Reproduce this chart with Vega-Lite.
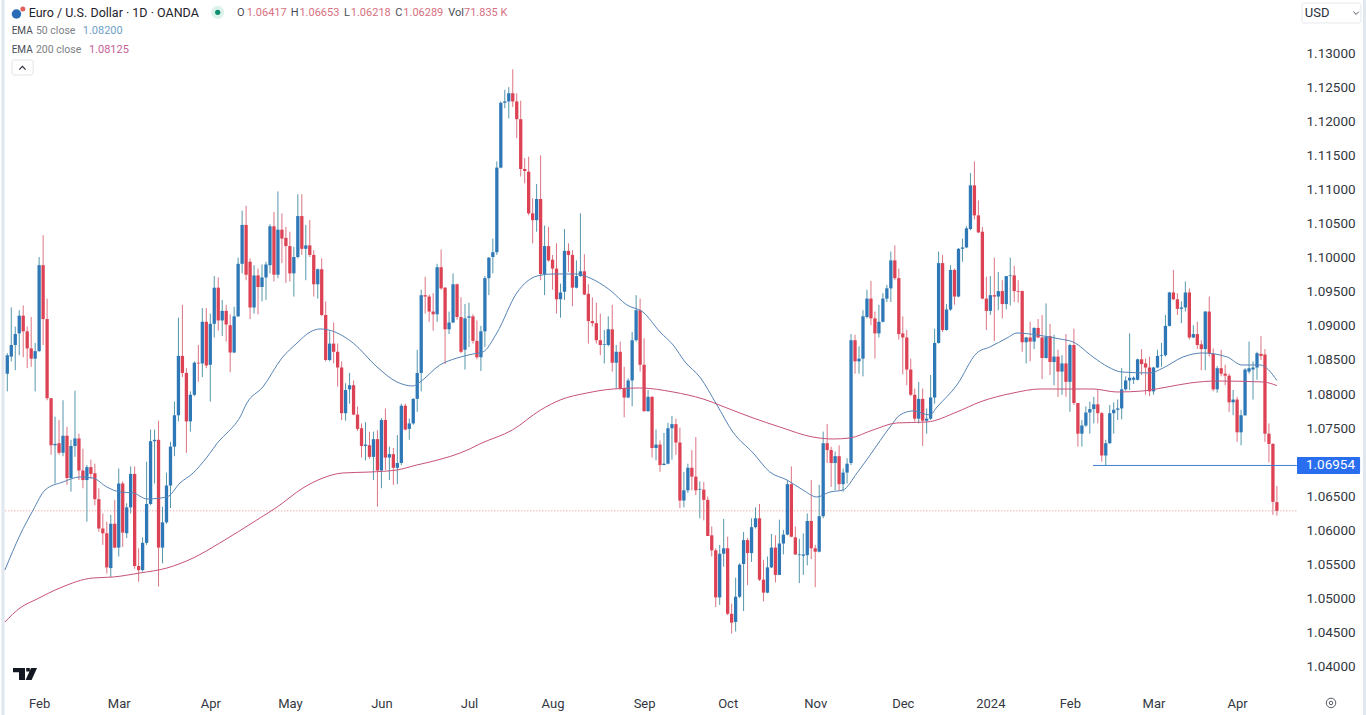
{"$schema":"https://vega.github.io/schema/vega-lite/v6.json","autosize":"none","padding":{"left":0,"top":0,"right":70,"bottom":30},"width":1296,"height":685,"background":"#ffffff","view":{"stroke":null},
"datasets":{
"candles":[
{"n":0,"o":1.0830,"h":1.0860,"l":1.0804,"c":1.0857,"d":"u"},{"n":1,"o":1.0855,"h":1.0927,"l":1.0848,"c":1.0872,"d":"u"},{"n":2,"o":1.0872,"h":1.0899,"l":1.0835,"c":1.0888,"d":"u"},{"n":3,"o":1.0889,"h":1.0923,"l":1.0857,"c":1.0915,"d":"u"},{"n":4,"o":1.0915,"h":1.0930,"l":1.0854,"c":1.0892,"d":"d"},{"n":5,"o":1.0892,"h":1.0899,"l":1.0838,"c":1.0867,"d":"d"},{"n":6,"o":1.0867,"h":1.0913,"l":1.0840,"c":1.0852,"d":"d"},{"n":7,"o":1.0852,"h":1.0875,"l":1.0804,"c":1.0863,"d":"u"},{"n":8,"o":1.0863,"h":1.1001,"l":1.0862,"c":1.0989,"d":"u"},{"n":9,"o":1.0989,"h":1.1033,"l":1.0872,"c":1.0910,"d":"d"},
{"n":10,"o":1.0910,"h":1.0940,"l":1.0791,"c":1.0794,"d":"d"},{"n":11,"o":1.0794,"h":1.0794,"l":1.0711,"c":1.0725,"d":"d"},{"n":12,"o":1.0725,"h":1.0767,"l":1.0669,"c":1.0727,"d":"u"},{"n":13,"o":1.0728,"h":1.0762,"l":1.0711,"c":1.0714,"d":"d"},{"n":14,"o":1.0714,"h":1.0791,"l":1.0709,"c":1.0739,"d":"u"},{"n":15,"o":1.0739,"h":1.0752,"l":1.0667,"c":1.0677,"d":"d"},{"n":16,"o":1.0677,"h":1.0733,"l":1.0657,"c":1.0724,"d":"u"},{"n":17,"o":1.0724,"h":1.0805,"l":1.0708,"c":1.0735,"d":"u"},{"n":18,"o":1.0735,"h":1.0742,"l":1.0674,"c":1.0688,"d":"d"},{"n":19,"o":1.0688,"h":1.0720,"l":1.0662,"c":1.0674,"d":"d"},
{"n":20,"o":1.0674,"h":1.0696,"l":1.0613,"c":1.0693,"d":"u"},{"n":21,"o":1.0693,"h":1.0704,"l":1.0676,"c":1.0683,"d":"d"},{"n":22,"o":1.0684,"h":1.0698,"l":1.0637,"c":1.0646,"d":"d"},{"n":23,"o":1.0646,"h":1.0662,"l":1.0598,"c":1.0603,"d":"d"},{"n":24,"o":1.0603,"h":1.0625,"l":1.0579,"c":1.0596,"d":"d"},{"n":25,"o":1.0596,"h":1.0613,"l":1.0537,"c":1.0546,"d":"d"},{"n":26,"o":1.0545,"h":1.0623,"l":1.0532,"c":1.0610,"d":"u"},{"n":27,"o":1.0610,"h":1.0645,"l":1.0574,"c":1.0575,"d":"d"},{"n":28,"o":1.0575,"h":1.0691,"l":1.0562,"c":1.0669,"d":"u"},{"n":29,"o":1.0669,"h":1.0672,"l":1.0576,"c":1.0597,"d":"d"},
{"n":30,"o":1.0596,"h":1.0640,"l":1.0589,"c":1.0634,"d":"u"},{"n":31,"o":1.0634,"h":1.0694,"l":1.0625,"c":1.0683,"d":"u"},{"n":32,"o":1.0683,"h":1.0694,"l":1.0544,"c":1.0548,"d":"d"},{"n":33,"o":1.0548,"h":1.0574,"l":1.0525,"c":1.0542,"d":"d"},{"n":34,"o":1.0542,"h":1.0590,"l":1.0540,"c":1.0582,"d":"u"},{"n":35,"o":1.0582,"h":1.0701,"l":1.0579,"c":1.0639,"d":"u"},{"n":36,"o":1.0639,"h":1.0748,"l":1.0637,"c":1.0731,"d":"u"},{"n":37,"o":1.0731,"h":1.0748,"l":1.0669,"c":1.0733,"d":"u"},{"n":38,"o":1.0733,"h":1.0761,"l":1.0518,"c":1.0575,"d":"d"},{"n":39,"o":1.0575,"h":1.0635,"l":1.0552,"c":1.0612,"d":"u"},
{"n":40,"o":1.0612,"h":1.0685,"l":1.0610,"c":1.0666,"d":"u"},{"n":41,"o":1.0666,"h":1.0730,"l":1.0633,"c":1.0723,"d":"u"},{"n":42,"o":1.0723,"h":1.0789,"l":1.0709,"c":1.0769,"d":"u"},{"n":43,"o":1.0769,"h":1.0912,"l":1.0760,"c":1.0856,"d":"u"},{"n":44,"o":1.0856,"h":1.0931,"l":1.0825,"c":1.0831,"d":"d"},{"n":45,"o":1.0831,"h":1.0838,"l":1.0714,"c":1.0760,"d":"d"},{"n":46,"o":1.0760,"h":1.0804,"l":1.0745,"c":1.0799,"d":"u"},{"n":47,"o":1.0799,"h":1.0848,"l":1.0797,"c":1.0846,"d":"u"},{"n":48,"o":1.0846,"h":1.0872,"l":1.0818,"c":1.0845,"d":"d"},{"n":49,"o":1.0845,"h":1.0926,"l":1.0825,"c":1.0906,"d":"u"},
{"n":50,"o":1.0906,"h":1.0926,"l":1.0838,"c":1.0842,"d":"d"},{"n":51,"o":1.0843,"h":1.0918,"l":1.0789,"c":1.0903,"d":"u"},{"n":52,"o":1.0903,"h":1.0973,"l":1.0883,"c":1.0956,"d":"u"},{"n":53,"o":1.0956,"h":1.0971,"l":1.0893,"c":1.0908,"d":"d"},{"n":54,"o":1.0908,"h":1.0938,"l":1.0885,"c":1.0922,"d":"u"},{"n":55,"o":1.0922,"h":1.0931,"l":1.0877,"c":1.0902,"d":"d"},{"n":56,"o":1.0901,"h":1.0917,"l":1.0832,"c":1.0861,"d":"d"},{"n":57,"o":1.0861,"h":1.0928,"l":1.0860,"c":1.0914,"d":"u"},{"n":58,"o":1.0914,"h":1.1000,"l":1.0913,"c":1.0991,"d":"u"},{"n":59,"o":1.0991,"h":1.1069,"l":1.0977,"c":1.1048,"d":"u"},
{"n":60,"o":1.1048,"h":1.1076,"l":1.0967,"c":1.0975,"d":"d"},{"n":61,"o":1.0994,"h":1.0999,"l":1.0910,"c":1.0927,"d":"d"},{"n":62,"o":1.0927,"h":1.0989,"l":1.0918,"c":1.0974,"d":"u"},{"n":63,"o":1.0974,"h":1.0984,"l":1.0917,"c":1.0957,"d":"d"},{"n":64,"o":1.0957,"h":1.0990,"l":1.0936,"c":1.0971,"d":"u"},{"n":65,"o":1.0971,"h":1.0994,"l":1.0938,"c":1.0990,"d":"u"},{"n":66,"o":1.0989,"h":1.1049,"l":1.0977,"c":1.1046,"d":"u"},{"n":67,"o":1.1046,"h":1.1067,"l":1.0965,"c":1.0975,"d":"d"},{"n":68,"o":1.0975,"h":1.1097,"l":1.0970,"c":1.1041,"d":"u"},{"n":69,"o":1.1041,"h":1.1065,"l":1.0992,"c":1.1028,"d":"d"},
{"n":70,"o":1.1029,"h":1.1045,"l":1.0963,"c":1.1017,"d":"d"},{"n":71,"o":1.1017,"h":1.1038,"l":1.0965,"c":1.0977,"d":"d"},{"n":72,"o":1.0977,"h":1.1016,"l":1.0943,"c":1.1001,"d":"u"},{"n":73,"o":1.1001,"h":1.1093,"l":1.0999,"c":1.1061,"d":"u"},{"n":74,"o":1.1061,"h":1.1093,"l":1.1004,"c":1.1013,"d":"d"},{"n":75,"o":1.1013,"h":1.1048,"l":1.0967,"c":1.1018,"d":"u"},{"n":76,"o":1.1018,"h":1.1055,"l":1.1001,"c":1.1004,"d":"d"},{"n":77,"o":1.1004,"h":1.1011,"l":1.0943,"c":1.0961,"d":"d"},{"n":78,"o":1.0961,"h":1.0984,"l":1.0940,"c":1.0983,"d":"u"},{"n":79,"o":1.0983,"h":1.0999,"l":1.0914,"c":1.0916,"d":"d"},
{"n":80,"o":1.0916,"h":1.0936,"l":1.0848,"c":1.0850,"d":"d"},{"n":81,"o":1.0850,"h":1.0892,"l":1.0848,"c":1.0874,"d":"u"},{"n":82,"o":1.0874,"h":1.0905,"l":1.0845,"c":1.0862,"d":"d"},{"n":83,"o":1.0862,"h":1.0874,"l":1.0811,"c":1.0839,"d":"d"},{"n":84,"o":1.0839,"h":1.0848,"l":1.0762,"c":1.0772,"d":"d"},{"n":85,"o":1.0772,"h":1.0816,"l":1.0761,"c":1.0806,"d":"u"},{"n":86,"o":1.0807,"h":1.0831,"l":1.0786,"c":1.0813,"d":"u"},{"n":87,"o":1.0813,"h":1.0820,"l":1.0769,"c":1.0770,"d":"d"},{"n":88,"o":1.0770,"h":1.0782,"l":1.0746,"c":1.0749,"d":"d"},{"n":89,"o":1.0750,"h":1.0757,"l":1.0707,"c":1.0724,"d":"d"},
{"n":90,"o":1.0724,"h":1.0759,"l":1.0703,"c":1.0726,"d":"u"},{"n":91,"o":1.0725,"h":1.0745,"l":1.0705,"c":1.0708,"d":"d"},{"n":92,"o":1.0708,"h":1.0745,"l":1.0674,"c":1.0734,"d":"u"},{"n":93,"o":1.0734,"h":1.0747,"l":1.0635,"c":1.0688,"d":"d"},{"n":94,"o":1.0688,"h":1.0765,"l":1.0662,"c":1.0762,"d":"u"},{"n":95,"o":1.0762,"h":1.0779,"l":1.0689,"c":1.0707,"d":"d"},{"n":96,"o":1.0707,"h":1.0723,"l":1.0674,"c":1.0712,"d":"u"},{"n":97,"o":1.0712,"h":1.0721,"l":1.0667,"c":1.0692,"d":"d"},{"n":98,"o":1.0692,"h":1.0740,"l":1.0668,"c":1.0699,"d":"u"},{"n":99,"o":1.0699,"h":1.0786,"l":1.0696,"c":1.0783,"d":"u"},
{"n":100,"o":1.0783,"h":1.0786,"l":1.0747,"c":1.0748,"d":"d"},{"n":101,"o":1.0749,"h":1.0764,"l":1.0733,"c":1.0757,"d":"u"},{"n":102,"o":1.0757,"h":1.0794,"l":1.0755,"c":1.0793,"d":"u"},{"n":103,"o":1.0793,"h":1.0865,"l":1.0774,"c":1.0831,"d":"u"},{"n":104,"o":1.0831,"h":1.0953,"l":1.0804,"c":1.0945,"d":"u"},{"n":105,"o":1.0945,"h":1.0972,"l":1.0918,"c":1.0943,"d":"d"},{"n":106,"o":1.0943,"h":1.0946,"l":1.0906,"c":1.0921,"d":"d"},{"n":107,"o":1.0921,"h":1.0948,"l":1.0893,"c":1.0917,"d":"d"},{"n":108,"o":1.0917,"h":1.0991,"l":1.0906,"c":1.0986,"d":"u"},{"n":109,"o":1.0986,"h":1.1012,"l":1.0953,"c":1.0955,"d":"d"},
{"n":110,"o":1.0956,"h":1.0957,"l":1.0844,"c":1.0895,"d":"d"},{"n":111,"o":1.0895,"h":1.0921,"l":1.0888,"c":1.0905,"d":"u"},{"n":112,"o":1.0905,"h":1.0977,"l":1.0904,"c":1.0961,"d":"u"},{"n":113,"o":1.0961,"h":1.0962,"l":1.0909,"c":1.0913,"d":"d"},{"n":114,"o":1.0913,"h":1.0942,"l":1.0860,"c":1.0862,"d":"d"},{"n":115,"o":1.0865,"h":1.0932,"l":1.0836,"c":1.0911,"d":"u"},{"n":116,"o":1.0912,"h":1.0934,"l":1.0869,"c":1.0914,"d":"u"},{"n":117,"o":1.0914,"h":1.0917,"l":1.0874,"c":1.0878,"d":"d"},{"n":118,"o":1.0878,"h":1.0908,"l":1.0851,"c":1.0854,"d":"d"},{"n":119,"o":1.0854,"h":1.0900,"l":1.0834,"c":1.0892,"d":"u"},
{"n":120,"o":1.0892,"h":1.0973,"l":1.0869,"c":1.0970,"d":"u"},{"n":121,"o":1.0970,"h":1.1001,"l":1.0945,"c":1.1000,"d":"u"},{"n":122,"o":1.1001,"h":1.1028,"l":1.0977,"c":1.1008,"d":"u"},{"n":123,"o":1.1008,"h":1.1141,"l":1.1004,"c":1.1132,"d":"u"},{"n":124,"o":1.1132,"h":1.1229,"l":1.1131,"c":1.1227,"d":"u"},{"n":125,"o":1.1227,"h":1.1246,"l":1.1219,"c":1.1229,"d":"u"},{"n":126,"o":1.1229,"h":1.1250,"l":1.1204,"c":1.1241,"d":"u"},{"n":127,"o":1.1241,"h":1.1276,"l":1.1221,"c":1.1229,"d":"d"},{"n":128,"o":1.1229,"h":1.1241,"l":1.1175,"c":1.1203,"d":"d"},{"n":129,"o":1.1203,"h":1.1230,"l":1.1119,"c":1.1130,"d":"d"},
{"n":130,"o":1.1130,"h":1.1146,"l":1.1109,"c":1.1127,"d":"d"},{"n":131,"o":1.1126,"h":1.1148,"l":1.1062,"c":1.1065,"d":"d"},{"n":132,"o":1.1065,"h":1.1087,"l":1.1021,"c":1.1055,"d":"d"},{"n":133,"o":1.1055,"h":1.1108,"l":1.1038,"c":1.1086,"d":"u"},{"n":134,"o":1.1086,"h":1.1150,"l":1.0967,"c":1.0976,"d":"d"},{"n":135,"o":1.0976,"h":1.1047,"l":1.0945,"c":1.1017,"d":"u"},{"n":136,"o":1.1017,"h":1.1045,"l":1.0994,"c":1.0996,"d":"d"},{"n":137,"o":1.0997,"h":1.1004,"l":1.0953,"c":1.0984,"d":"d"},{"n":138,"o":1.0984,"h":1.1021,"l":1.0918,"c":1.0939,"d":"d"},{"n":139,"o":1.0939,"h":1.0962,"l":1.0912,"c":1.0949,"d":"u"},
{"n":140,"o":1.0950,"h":1.1042,"l":1.0938,"c":1.1010,"d":"u"},{"n":141,"o":1.1010,"h":1.1021,"l":1.0979,"c":1.1004,"d":"d"},{"n":142,"o":1.1004,"h":1.1011,"l":1.0929,"c":1.0956,"d":"d"},{"n":143,"o":1.0956,"h":1.0996,"l":1.0955,"c":1.0973,"d":"u"},{"n":144,"o":1.0973,"h":1.1065,"l":1.0972,"c":1.0980,"d":"u"},{"n":145,"o":1.0980,"h":1.1005,"l":1.0945,"c":1.0946,"d":"d"},{"n":146,"o":1.0947,"h":1.0961,"l":1.0874,"c":1.0907,"d":"d"},{"n":147,"o":1.0907,"h":1.0942,"l":1.0899,"c":1.0904,"d":"d"},{"n":148,"o":1.0904,"h":1.0934,"l":1.0874,"c":1.0879,"d":"d"},{"n":149,"o":1.0879,"h":1.0918,"l":1.0857,"c":1.0872,"d":"d"},
{"n":150,"o":1.0872,"h":1.0894,"l":1.0845,"c":1.0873,"d":"u"},{"n":151,"o":1.0872,"h":1.0914,"l":1.0870,"c":1.0895,"d":"u"},{"n":152,"o":1.0895,"h":1.0931,"l":1.0833,"c":1.0846,"d":"d"},{"n":153,"o":1.0846,"h":1.0872,"l":1.0808,"c":1.0862,"d":"u"},{"n":154,"o":1.0862,"h":1.0877,"l":1.0806,"c":1.0809,"d":"d"},{"n":155,"o":1.0809,"h":1.0840,"l":1.0766,"c":1.0795,"d":"d"},{"n":156,"o":1.0795,"h":1.0823,"l":1.0794,"c":1.0820,"d":"u"},{"n":157,"o":1.0820,"h":1.0891,"l":1.0782,"c":1.0879,"d":"u"},{"n":158,"o":1.0879,"h":1.0945,"l":1.0877,"c":1.0923,"d":"u"},{"n":159,"o":1.0923,"h":1.0940,"l":1.0833,"c":1.0843,"d":"d"},
{"n":160,"o":1.0843,"h":1.0882,"l":1.0774,"c":1.0775,"d":"d"},{"n":161,"o":1.0775,"h":1.0806,"l":1.0774,"c":1.0796,"d":"u"},{"n":162,"o":1.0796,"h":1.0797,"l":1.0707,"c":1.0721,"d":"d"},{"n":163,"o":1.0721,"h":1.0748,"l":1.0703,"c":1.0726,"d":"u"},{"n":164,"o":1.0726,"h":1.0732,"l":1.0686,"c":1.0696,"d":"d"},{"n":165,"o":1.0696,"h":1.0743,"l":1.0696,"c":1.0698,"d":"u"},{"n":166,"o":1.0698,"h":1.0758,"l":1.0697,"c":1.0750,"d":"u"},{"n":167,"o":1.0750,"h":1.0768,"l":1.0704,"c":1.0756,"d":"u"},{"n":168,"o":1.0756,"h":1.0764,"l":1.0711,"c":1.0729,"d":"d"},{"n":169,"o":1.0729,"h":1.0751,"l":1.0633,"c":1.0644,"d":"d"},
{"n":170,"o":1.0644,"h":1.0686,"l":1.0634,"c":1.0659,"d":"u"},{"n":171,"o":1.0659,"h":1.0698,"l":1.0655,"c":1.0692,"d":"u"},{"n":172,"o":1.0692,"h":1.0718,"l":1.0659,"c":1.0679,"d":"d"},{"n":173,"o":1.0679,"h":1.0737,"l":1.0652,"c":1.0659,"d":"d"},{"n":174,"o":1.0660,"h":1.0672,"l":1.0618,"c":1.0661,"d":"u"},{"n":175,"o":1.0660,"h":1.0671,"l":1.0615,"c":1.0645,"d":"d"},{"n":176,"o":1.0645,"h":1.0650,"l":1.0592,"c":1.0592,"d":"d"},{"n":177,"o":1.0593,"h":1.0606,"l":1.0562,"c":1.0571,"d":"d"},{"n":178,"o":1.0571,"h":1.0574,"l":1.0488,"c":1.0502,"d":"d"},{"n":179,"o":1.0502,"h":1.0579,"l":1.0491,"c":1.0566,"d":"u"},
{"n":180,"o":1.0566,"h":1.0617,"l":1.0547,"c":1.0574,"d":"u"},{"n":181,"o":1.0574,"h":1.0591,"l":1.0476,"c":1.0478,"d":"d"},{"n":182,"o":1.0478,"h":1.0493,"l":1.0449,"c":1.0465,"d":"d"},{"n":183,"o":1.0466,"h":1.0531,"l":1.0452,"c":1.0503,"d":"u"},{"n":184,"o":1.0503,"h":1.0552,"l":1.0501,"c":1.0550,"d":"u"},{"n":185,"o":1.0551,"h":1.0598,"l":1.0482,"c":1.0586,"d":"u"},{"n":186,"o":1.0586,"h":1.0589,"l":1.0520,"c":1.0567,"d":"d"},{"n":187,"o":1.0567,"h":1.0618,"l":1.0554,"c":1.0605,"d":"u"},{"n":188,"o":1.0605,"h":1.0634,"l":1.0603,"c":1.0618,"d":"u"},{"n":189,"o":1.0618,"h":1.0639,"l":1.0526,"c":1.0528,"d":"d"},
{"n":190,"o":1.0528,"h":1.0557,"l":1.0496,"c":1.0509,"d":"d"},{"n":191,"o":1.0509,"h":1.0562,"l":1.0508,"c":1.0546,"d":"u"},{"n":192,"o":1.0546,"h":1.0595,"l":1.0545,"c":1.0575,"d":"u"},{"n":193,"o":1.0575,"h":1.0593,"l":1.0524,"c":1.0535,"d":"d"},{"n":194,"o":1.0535,"h":1.0616,"l":1.0535,"c":1.0581,"d":"u"},{"n":195,"o":1.0581,"h":1.0601,"l":1.0565,"c":1.0594,"d":"u"},{"n":196,"o":1.0594,"h":1.0674,"l":1.0593,"c":1.0668,"d":"u"},{"n":197,"o":1.0668,"h":1.0694,"l":1.0590,"c":1.0591,"d":"d"},{"n":198,"o":1.0590,"h":1.0606,"l":1.0564,"c":1.0565,"d":"d"},{"n":199,"o":1.0564,"h":1.0588,"l":1.0523,"c":1.0565,"d":"u"},
{"n":200,"o":1.0563,"h":1.0596,"l":1.0535,"c":1.0565,"d":"u"},{"n":201,"o":1.0564,"h":1.0625,"l":1.0549,"c":1.0614,"d":"u"},{"n":202,"o":1.0614,"h":1.0674,"l":1.0558,"c":1.0574,"d":"d"},{"n":203,"o":1.0574,"h":1.0579,"l":1.0517,"c":1.0569,"d":"d"},{"n":204,"o":1.0569,"h":1.0667,"l":1.0568,"c":1.0621,"d":"u"},{"n":205,"o":1.0621,"h":1.0745,"l":1.0618,"c":1.0728,"d":"u"},{"n":206,"o":1.0728,"h":1.0756,"l":1.0699,"c":1.0718,"d":"d"},{"n":207,"o":1.0718,"h":1.0723,"l":1.0664,"c":1.0699,"d":"d"},{"n":208,"o":1.0699,"h":1.0716,"l":1.0659,"c":1.0709,"d":"u"},{"n":209,"o":1.0709,"h":1.0725,"l":1.0659,"c":1.0668,"d":"d"},
{"n":210,"o":1.0668,"h":1.0691,"l":1.0657,"c":1.0685,"d":"u"},{"n":211,"o":1.0685,"h":1.0706,"l":1.0669,"c":1.0698,"d":"u"},{"n":212,"o":1.0699,"h":1.0888,"l":1.0696,"c":1.0879,"d":"u"},{"n":213,"o":1.0879,"h":1.0887,"l":1.0830,"c":1.0848,"d":"d"},{"n":214,"o":1.0848,"h":1.0870,"l":1.0830,"c":1.0852,"d":"u"},{"n":215,"o":1.0852,"h":1.0923,"l":1.0826,"c":1.0914,"d":"u"},{"n":216,"o":1.0913,"h":1.0953,"l":1.0911,"c":1.0940,"d":"u"},{"n":217,"o":1.0940,"h":1.0966,"l":1.0901,"c":1.0911,"d":"d"},{"n":218,"o":1.0911,"h":1.0921,"l":1.0852,"c":1.0889,"d":"d"},{"n":219,"o":1.0889,"h":1.0931,"l":1.0883,"c":1.0906,"d":"u"},
{"n":220,"o":1.0906,"h":1.0948,"l":1.0905,"c":1.0940,"d":"u"},{"n":221,"o":1.0940,"h":1.0960,"l":1.0935,"c":1.0955,"d":"u"},{"n":222,"o":1.0955,"h":1.1009,"l":1.0935,"c":1.0996,"d":"u"},{"n":223,"o":1.0996,"h":1.1018,"l":1.0967,"c":1.0970,"d":"d"},{"n":224,"o":1.0970,"h":1.0984,"l":1.0880,"c":1.0888,"d":"d"},{"n":225,"o":1.0889,"h":1.0914,"l":1.0829,"c":1.0883,"d":"d"},{"n":226,"o":1.0883,"h":1.0894,"l":1.0813,"c":1.0836,"d":"d"},{"n":227,"o":1.0836,"h":1.0852,"l":1.0797,"c":1.0799,"d":"d"},{"n":228,"o":1.0799,"h":1.0808,"l":1.0760,"c":1.0764,"d":"d"},{"n":229,"o":1.0764,"h":1.0818,"l":1.0757,"c":1.0793,"d":"u"},
{"n":230,"o":1.0793,"h":1.0808,"l":1.0724,"c":1.0761,"d":"d"},{"n":231,"o":1.0761,"h":1.0779,"l":1.0742,"c":1.0764,"d":"u"},{"n":232,"o":1.0764,"h":1.0828,"l":1.0762,"c":1.0795,"d":"u"},{"n":233,"o":1.0795,"h":1.0896,"l":1.0786,"c":1.0875,"d":"u"},{"n":234,"o":1.0875,"h":1.1009,"l":1.0874,"c":1.0992,"d":"u"},{"n":235,"o":1.0992,"h":1.1004,"l":1.0891,"c":1.0894,"d":"d"},{"n":236,"o":1.0894,"h":1.0932,"l":1.0893,"c":1.0924,"d":"u"},{"n":237,"o":1.0924,"h":1.0989,"l":1.0922,"c":1.0982,"d":"u"},{"n":238,"o":1.0982,"h":1.0984,"l":1.0931,"c":1.0943,"d":"d"},{"n":239,"o":1.0943,"h":1.1014,"l":1.0942,"c":1.1013,"d":"u"},
{"n":240,"o":1.1013,"h":1.1028,"l":1.0994,"c":1.1015,"d":"u"},{"n":241,"o":1.1015,"h":1.1046,"l":1.1014,"c":1.1043,"d":"u"},{"n":242,"o":1.1042,"h":1.1124,"l":1.1040,"c":1.1106,"d":"u"},{"n":243,"o":1.1106,"h":1.1141,"l":1.1056,"c":1.1062,"d":"d"},{"n":244,"o":1.1062,"h":1.1084,"l":1.1036,"c":1.1037,"d":"d"},{"n":245,"o":1.1038,"h":1.1045,"l":1.0939,"c":1.0940,"d":"d"},{"n":246,"o":1.0940,"h":1.0972,"l":1.0894,"c":1.0922,"d":"d"},{"n":247,"o":1.0922,"h":1.0973,"l":1.0916,"c":1.0945,"d":"u"},{"n":248,"o":1.0945,"h":1.1000,"l":1.0878,"c":1.0943,"d":"d"},{"n":249,"o":1.0943,"h":1.0979,"l":1.0923,"c":1.0951,"d":"u"},
{"n":250,"o":1.0951,"h":1.0967,"l":1.0911,"c":1.0932,"d":"d"},{"n":251,"o":1.0932,"h":1.0973,"l":1.0924,"c":1.0973,"d":"u"},{"n":252,"o":1.0973,"h":1.1000,"l":1.0930,"c":1.0974,"d":"u"},{"n":253,"o":1.0974,"h":1.0988,"l":1.0935,"c":1.0951,"d":"d"},{"n":254,"o":1.0951,"h":1.0967,"l":1.0934,"c":1.0950,"d":"d"},{"n":255,"o":1.0951,"h":1.0952,"l":1.0862,"c":1.0876,"d":"d"},{"n":256,"o":1.0876,"h":1.0884,"l":1.0845,"c":1.0883,"d":"u"},{"n":257,"o":1.0883,"h":1.0906,"l":1.0848,"c":1.0877,"d":"d"},{"n":258,"o":1.0877,"h":1.0898,"l":1.0866,"c":1.0897,"d":"u"},{"n":259,"o":1.0897,"h":1.0910,"l":1.0882,"c":1.0883,"d":"d"},
{"n":260,"o":1.0883,"h":1.0916,"l":1.0822,"c":1.0853,"d":"d"},{"n":261,"o":1.0853,"h":1.0933,"l":1.0852,"c":1.0884,"d":"u"},{"n":262,"o":1.0885,"h":1.0903,"l":1.0828,"c":1.0847,"d":"d"},{"n":263,"o":1.0847,"h":1.0887,"l":1.0813,"c":1.0855,"d":"u"},{"n":264,"o":1.0855,"h":1.0865,"l":1.0796,"c":1.0833,"d":"d"},{"n":265,"o":1.0833,"h":1.0857,"l":1.0799,"c":1.0845,"d":"u"},{"n":266,"o":1.0845,"h":1.0888,"l":1.0796,"c":1.0818,"d":"d"},{"n":267,"o":1.0818,"h":1.0874,"l":1.0774,"c":1.0872,"d":"u"},{"n":268,"o":1.0872,"h":1.0896,"l":1.0784,"c":1.0787,"d":"d"},{"n":269,"o":1.0787,"h":1.0787,"l":1.0723,"c":1.0742,"d":"d"},
{"n":270,"o":1.0742,"h":1.0762,"l":1.0723,"c":1.0754,"d":"u"},{"n":271,"o":1.0754,"h":1.0782,"l":1.0752,"c":1.0773,"d":"u"},{"n":272,"o":1.0773,"h":1.0789,"l":1.0742,"c":1.0778,"d":"u"},{"n":273,"o":1.0778,"h":1.0796,"l":1.0757,"c":1.0785,"d":"u"},{"n":274,"o":1.0785,"h":1.0806,"l":1.0757,"c":1.0772,"d":"d"},{"n":275,"o":1.0772,"h":1.0774,"l":1.0701,"c":1.0710,"d":"d"},{"n":276,"o":1.0710,"h":1.0733,"l":1.0695,"c":1.0728,"d":"u"},{"n":277,"o":1.0728,"h":1.0784,"l":1.0727,"c":1.0772,"d":"u"},{"n":278,"o":1.0772,"h":1.0788,"l":1.0742,"c":1.0777,"d":"u"},{"n":279,"o":1.0777,"h":1.0792,"l":1.0762,"c":1.0779,"d":"u"},
{"n":280,"o":1.0779,"h":1.0838,"l":1.0763,"c":1.0807,"d":"u"},{"n":281,"o":1.0807,"h":1.0826,"l":1.0805,"c":1.0820,"d":"u"},{"n":282,"o":1.0820,"h":1.0889,"l":1.0806,"c":1.0824,"d":"u"},{"n":283,"o":1.0821,"h":1.0826,"l":1.0815,"c":1.0824,"d":"u"},{"n":284,"o":1.0821,"h":1.0852,"l":1.0820,"c":1.0851,"d":"u"},{"n":285,"o":1.0851,"h":1.0866,"l":1.0828,"c":1.0844,"d":"d"},{"n":286,"o":1.0845,"h":1.0852,"l":1.0799,"c":1.0839,"d":"d"},{"n":287,"o":1.0839,"h":1.0855,"l":1.0797,"c":1.0804,"d":"d"},{"n":288,"o":1.0804,"h":1.0840,"l":1.0799,"c":1.0839,"d":"u"},{"n":289,"o":1.0839,"h":1.0865,"l":1.0838,"c":1.0856,"d":"u"},
{"n":290,"o":1.0856,"h":1.0875,"l":1.0840,"c":1.0857,"d":"u"},{"n":291,"o":1.0857,"h":1.0916,"l":1.0855,"c":1.0900,"d":"u"},{"n":292,"o":1.0900,"h":1.0950,"l":1.0899,"c":1.0949,"d":"u"},{"n":293,"o":1.0949,"h":1.0982,"l":1.0938,"c":1.0939,"d":"d"},{"n":294,"o":1.0939,"h":1.0948,"l":1.0916,"c":1.0925,"d":"d"},{"n":295,"o":1.0925,"h":1.0936,"l":1.0904,"c":1.0927,"d":"u"},{"n":296,"o":1.0927,"h":1.0965,"l":1.0921,"c":1.0949,"d":"u"},{"n":297,"o":1.0949,"h":1.0955,"l":1.0880,"c":1.0883,"d":"d"},{"n":298,"o":1.0883,"h":1.0901,"l":1.0882,"c":1.0888,"d":"u"},{"n":299,"o":1.0888,"h":1.0906,"l":1.0866,"c":1.0872,"d":"d"},
{"n":300,"o":1.0873,"h":1.0879,"l":1.0835,"c":1.0866,"d":"d"},{"n":301,"o":1.0866,"h":1.0922,"l":1.0835,"c":1.0921,"d":"u"},{"n":302,"o":1.0921,"h":1.0943,"l":1.0855,"c":1.0859,"d":"d"},{"n":303,"o":1.0859,"h":1.0867,"l":1.0804,"c":1.0807,"d":"d"},{"n":304,"o":1.0807,"h":1.0841,"l":1.0802,"c":1.0838,"d":"u"},{"n":305,"o":1.0838,"h":1.0865,"l":1.0826,"c":1.0830,"d":"d"},{"n":306,"o":1.0830,"h":1.0843,"l":1.0813,"c":1.0827,"d":"d"},{"n":307,"o":1.0827,"h":1.0830,"l":1.0774,"c":1.0788,"d":"d"},{"n":308,"o":1.0788,"h":1.0806,"l":1.0769,"c":1.0792,"d":"u"},{"n":309,"o":1.0792,"h":1.0796,"l":1.0730,"c":1.0744,"d":"d"},
{"n":310,"o":1.0744,"h":1.0777,"l":1.0725,"c":1.0769,"d":"u"},{"n":311,"o":1.0769,"h":1.0838,"l":1.0768,"c":1.0836,"d":"u"},{"n":312,"o":1.0833,"h":1.0877,"l":1.0830,"c":1.0838,"d":"u"},{"n":313,"o":1.0836,"h":1.0848,"l":1.0792,"c":1.0839,"d":"u"},{"n":314,"o":1.0839,"h":1.0862,"l":1.0821,"c":1.0860,"d":"u"},{"n":315,"o":1.0859,"h":1.0885,"l":1.0850,"c":1.0856,"d":"d"},{"n":316,"o":1.0858,"h":1.0866,"l":1.0730,"c":1.0742,"d":"d"},{"n":317,"o":1.0742,"h":1.0757,"l":1.0700,"c":1.0727,"d":"d"},{"n":318,"o":1.0727,"h":1.0728,"l":1.0623,"c":1.0642,"d":"d"},{"n":319,"o":1.06417,"h":1.06653,"l":1.06218,"c":1.06289,"d":"d"}
],
"ema50":[{"n":-0.6,"p":1.05422},{"n":3.2,"p":1.05935},{"n":6.5,"p":1.06301},{"n":9.5,"p":1.06595},{"n":14,"p":1.06712},{"n":18.3,"p":1.06785},{"n":21.5,"p":1.0677},{"n":25,"p":1.06639},{"n":28.3,"p":1.06565},{"n":31.6,"p":1.06551},{"n":35.1,"p":1.06463},{"n":40.1,"p":1.06492},{"n":43.4,"p":1.06697},{"n":46.7,"p":1.06844},{"n":50.2,"p":1.07078},{"n":53.4,"p":1.07327},{"n":55.2,"p":1.0743},{"n":58.5,"p":1.07665},{"n":60.2,"p":1.0787},{"n":64.2,"p":1.08104},{"n":69,"p":1.08529},{"n":72.8,"p":1.08749},{"n":76.1,"p":1.08911},{"n":78.6,"p":1.08955},{"n":82.3,"p":1.08911},{"n":86.9,"p":1.08749},{"n":92.9,"p":1.08397},{"n":97.9,"p":1.08178},{"n":101.9,"p":1.08119},{"n":103.7,"p":1.08178},{"n":108.7,"p":1.08427},{"n":113,"p":1.08529},{"n":117,"p":1.08588},{"n":119.5,"p":1.08617},{"n":123,"p":1.08896},{"n":128,"p":1.09482},{"n":133.1,"p":1.09731},{"n":137.1,"p":1.09761},{"n":143.1,"p":1.09761},{"n":146.4,"p":1.09702},{"n":151.4,"p":1.09526},{"n":155.7,"p":1.09306},{"n":159.7,"p":1.09204},{"n":164,"p":1.08911},{"n":167.3,"p":1.0872},{"n":170.3,"p":1.08471},{"n":174,"p":1.08251},{"n":178.3,"p":1.07841},{"n":182.3,"p":1.07445},{"n":187.4,"p":1.07137},{"n":191.6,"p":1.06858},{"n":195.9,"p":1.06741},{"n":199.9,"p":1.06595},{"n":203.4,"p":1.06492},{"n":206.7,"p":1.06565},{"n":210,"p":1.06595},{"n":213.5,"p":1.06844},{"n":216.8,"p":1.07108},{"n":221.8,"p":1.07518},{"n":224.3,"p":1.07694},{"n":227.6,"p":1.07753},{"n":231.8,"p":1.07694},{"n":233.6,"p":1.07811},{"n":238.6,"p":1.08134},{"n":243.6,"p":1.08603},{"n":246.9,"p":1.08691},{"n":251.2,"p":1.08823},{"n":253.7,"p":1.08896},{"n":258.7,"p":1.08867},{"n":264.5,"p":1.08808},{"n":267.8,"p":1.08764},{"n":272.8,"p":1.08544},{"n":276.6,"p":1.08398},{"n":280,"p":1.08324},{"n":287.1,"p":1.0831},{"n":290.4,"p":1.08383},{"n":295.4,"p":1.08544},{"n":300.4,"p":1.08603},{"n":306.5,"p":1.08544},{"n":310.2,"p":1.08427},{"n":314.8,"p":1.08427},{"n":319,"p":1.082}],
"ema200":[{"n":-0.6,"p":1.0466},{"n":3.2,"p":1.04865},{"n":7.5,"p":1.04997},{"n":13.2,"p":1.05158},{"n":21.5,"p":1.05305},{"n":26.6,"p":1.05319},{"n":33.3,"p":1.05378},{"n":40.1,"p":1.05451},{"n":46.7,"p":1.05598},{"n":53.4,"p":1.05818},{"n":62.7,"p":1.06155},{"n":67.8,"p":1.06345},{"n":74.3,"p":1.06624},{"n":79.3,"p":1.0677},{"n":84.3,"p":1.06844},{"n":91.1,"p":1.06858},{"n":97.9,"p":1.06888},{"n":102.9,"p":1.06961},{"n":106.2,"p":1.07005},{"n":116.2,"p":1.07196},{"n":118.7,"p":1.07269},{"n":126.9,"p":1.07474},{"n":134,"p":1.07767},{"n":138.9,"p":1.07914},{"n":145.6,"p":1.08016},{"n":152.2,"p":1.08075},{"n":158.9,"p":1.0809},{"n":167.3,"p":1.08031},{"n":174.8,"p":1.07929},{"n":180.8,"p":1.07797},{"n":187.4,"p":1.0765},{"n":194.1,"p":1.07518},{"n":202.4,"p":1.07371},{"n":207.5,"p":1.07342},{"n":211.7,"p":1.07357},{"n":217.5,"p":1.07474},{"n":223.5,"p":1.07577},{"n":231,"p":1.07591},{"n":238.6,"p":1.07738},{"n":244.4,"p":1.07885},{"n":252.7,"p":1.08016},{"n":259.5,"p":1.08075},{"n":264.5,"p":1.08075},{"n":272.8,"p":1.08075},{"n":278.8,"p":1.08031},{"n":285.3,"p":1.08046},{"n":291.4,"p":1.08104},{"n":297.2,"p":1.08163},{"n":303.9,"p":1.08192},{"n":315.5,"p":1.08178},{"n":319,"p":1.08125}]
},
"encoding":{
"x":{"field":"n","type":"quantitative","title":null,"scale":{"domain":[-1.834,323.8],"nice":false,"zero":false,"padding":0},"axis":{"orient":"bottom","values":[8,28,51,71,94,116,137,160,181,203,225,247,267,288,309],"labelExpr":"{'8':'Feb','28':'Mar','51':'Apr','71':'May','94':'Jun','116':'Jul','137':'Aug','160':'Sep','181':'Oct','203':'Nov','225':'Dec','247':'2024','267':'Feb','288':'Mar','309':'Apr'}[datum.value]","grid":false,"domain":false,"ticks":false,"labelPadding":12,"labelFont":"Roboto","labelFontSize":13,"labelColor":"#333842","labelFontWeight":{"condition":{"test":"datum.label=='2024'","value":"bold"},"value":"normal"},"labelOverlap":false,"labelFlush":false}},
"y":{"field":"p","type":"quantitative","title":null,"scale":{"domain":[1.03736,1.13777],"nice":false,"zero":false,"padding":0},"axis":{"orient":"right","values":[1.04,1.045,1.05,1.055,1.06,1.065,1.075,1.08,1.085,1.09,1.095,1.1,1.105,1.11,1.115,1.12,1.125,1.13],"format":".5f","grid":false,"domain":false,"ticks":false,"labelPadding":10,"labelFont":"Roboto","labelFontSize":13.5,"labelColor":"#333842","labelOverlap":false,"labelFlush":false}}
},
"layer":[
{"data":{"values":[{"n":-1.08,"p":1.13777,"p2":1.03296},{"n":341,"p":1.13777,"p2":1.03296}]},"mark":{"type":"rule","color":"#e0e7ee","strokeWidth":3},"encoding":{"y2":{"field":"p2"}}},
{"data":{"values":[{"n":-0.5,"n2":324,"p":1.06289}]},"mark":{"type":"rule","color":"#e58a8a","strokeWidth":1,"strokeDash":[1,2]},"encoding":{"x2":{"field":"n2"}}},
{"data":{"name":"candles"},"mark":{"type":"rule","strokeWidth":1},"encoding":{"y":{"field":"l","type":"quantitative","title":null,"scale":{"domain":[1.03736,1.13777],"nice":false,"zero":false,"padding":0},"axis":{"orient":"right","values":[1.04,1.045,1.05,1.055,1.06,1.065,1.075,1.08,1.085,1.09,1.095,1.1,1.105,1.11,1.115,1.12,1.125,1.13],"format":".5f","grid":false,"domain":false,"ticks":false,"labelPadding":10,"labelFont":"Roboto","labelFontSize":13.5,"labelColor":"#333842","labelOverlap":false,"labelFlush":false}},"y2":{"field":"h"},"color":{"condition":{"test":"datum.d=='u'","value":"#5596ac"},"value":"#dc7483"}}},
{"data":{"name":"candles"},"mark":{"type":"bar","size":3.3},"encoding":{"y":{"field":"o","type":"quantitative","title":null,"scale":{"domain":[1.03736,1.13777],"nice":false,"zero":false,"padding":0},"axis":{"orient":"right","values":[1.04,1.045,1.05,1.055,1.06,1.065,1.075,1.08,1.085,1.09,1.095,1.1,1.105,1.11,1.115,1.12,1.125,1.13],"format":".5f","grid":false,"domain":false,"ticks":false,"labelPadding":10,"labelFont":"Roboto","labelFontSize":13.5,"labelColor":"#333842","labelOverlap":false,"labelFlush":false}},"y2":{"field":"c"},"color":{"condition":{"test":"datum.d=='u'","value":"#2e78b7"},"value":"#dc4253"}}},
{"data":{"name":"ema50"},"mark":{"type":"line","color":"#5684b5","strokeWidth":1,"interpolate":"monotone"}},
{"data":{"name":"ema200"},"mark":{"type":"line","color":"#c6527a","strokeWidth":1,"interpolate":"monotone"}},
{"data":{"values":[{"n":272.8,"n2":324,"p":1.06954}]},"mark":{"type":"rule","color":"#3f7fd0","strokeWidth":1},"encoding":{"x2":{"field":"n2"}}},
{"data":{"values":[{"n":324.05,"n2":339.9,"p":1.07078,"p2":1.06829}]},"mark":{"type":"rect","color":"#2a6ef0","cornerRadius":1},"encoding":{"x2":{"field":"n2"},"y2":{"field":"p2"}}},
{"data":{"values":[{"n":326.3,"p":1.06954,"label":"1.06954"}]},"mark":{"type":"text","align":"left","baseline":"middle","font":"Roboto","fontSize":13.5,"color":"#ffffff"},"encoding":{"text":{"field":"label"}}},
{"data":{"values":[{"n":325.3,"n2":340.1,"p":1.13733,"p2":1.1344}]},"mark":{"type":"rect","fill":"#ffffff","stroke":"#e6e8ec","strokeWidth":1,"cornerRadius":2},"encoding":{"x2":{"field":"n2"},"y2":{"field":"p2"}}},
{"data":{"values":[{"n":326,"p":1.13586,"label":"USD"}]},"mark":{"type":"text","align":"left","baseline":"middle","font":"Roboto","fontSize":13,"color":"#2a2e39"},"encoding":{"text":{"field":"label"}}},
{"data":{"values":[{"n":338.9,"p":1.13586}]},"mark":{"type":"point","shape":"M -1 -0.5 L 0 0.5 L 1 -0.5","size":30,"filled":false,"stroke":"#50535e","strokeWidth":1,"opacity":1}},
{"data":{"values":[{"n":5.38,"p":1.13586,"label":"Euro / U.S. Dollar · 1D · OANDA"}]},"mark":{"type":"text","align":"left","baseline":"middle","font":"Roboto","fontSize":12.5,"color":"#1f232c"},"encoding":{"text":{"field":"label"}}},
{"data":{"values":[{"n":57.7,"p":1.13586,"label":"O"},{"n":71.2,"p":1.13586,"label":"H"},{"n":84.6,"p":1.13586,"label":"L"},{"n":97.5,"p":1.13586,"label":"C"},{"n":110.8,"p":1.13586,"label":"Vol"}]},"mark":{"type":"text","align":"left","baseline":"middle","font":"Roboto","fontSize":11,"color":"#4a4d55"},"encoding":{"text":{"field":"label"}}},
{"data":{"values":[{"n":1.1,"p":1.13323,"label":"EMA"},{"n":1.1,"p":1.13048,"label":"EMA"}]},"mark":{"type":"text","align":"left","baseline":"middle","font":"Roboto","fontSize":10,"color":"#4a4d55"},"encoding":{"text":{"field":"label"}}},
{"data":{"values":[{"n":60.15,"p":1.13586,"label":"1.06417"},{"n":73.4,"p":1.13586,"label":"1.06653"},{"n":86.3,"p":1.13586,"label":"1.06218"},{"n":99.5,"p":1.13586,"label":"1.06289"},{"n":114.75,"p":1.13586,"label":"71.835 K"}]},"mark":{"type":"text","align":"left","baseline":"middle","font":"Roboto","fontSize":11,"color":"#d8707f"},"encoding":{"text":{"field":"label"}}},
{"data":{"values":[{"n":7.2,"p":1.13323,"label":"50 close"},{"n":7.2,"p":1.13048,"label":"200 close"}]},"mark":{"type":"text","align":"left","baseline":"middle","font":"Roboto","fontSize":10.5,"color":"#7d7f87"},"encoding":{"text":{"field":"label"}}},
{"data":{"values":[{"n":18.95,"p":1.13323,"label":"1.08200"}]},"mark":{"type":"text","align":"left","baseline":"middle","font":"Roboto","fontSize":11,"color":"#6f9fc9"},"encoding":{"text":{"field":"label"}}},
{"data":{"values":[{"n":20.5,"p":1.13048,"label":"1.08125"}]},"mark":{"type":"text","align":"left","baseline":"middle","font":"Roboto","fontSize":11,"color":"#c55f96"},"encoding":{"text":{"field":"label"}}},
{"data":{"values":[{"n":52.87,"p":1.13597}]},"mark":{"type":"point","shape":"circle","filled":true,"size":170,"color":"#dcf2ea","opacity":1}},
{"data":{"values":[{"n":52.87,"p":1.13597}]},"mark":{"type":"point","shape":"circle","filled":true,"size":28,"color":"#0d8f6f","opacity":1}},
{"data":{"values":[{"n":2.3,"p":1.13572}]},"mark":{"type":"point","shape":"circle","filled":true,"size":90,"color":"#2a6cb5","opacity":1}},
{"data":{"values":[{"n":3.9,"p":1.13645}]},"mark":{"type":"point","shape":"circle","filled":true,"size":25,"color":"#e0605e","opacity":1}},
{"data":{"values":[{"n":1.2,"n2":6.5,"p":1.12898,"p2":1.12678}]},"mark":{"type":"rect","fill":"#ffffff","stroke":"#e2e4e8","strokeWidth":1,"cornerRadius":2},"encoding":{"x2":{"field":"n2"},"y2":{"field":"p2"}}},
{"data":{"values":[{"n":3.8,"p":1.1278}]},"mark":{"type":"point","shape":"M -1 0.5 L 0 -0.5 L 1 0.5","size":40,"filled":false,"stroke":"#2a2e39","strokeWidth":1.2,"opacity":1}},
{"data":{"values":[{"n":4.45,"p":1.03897}]},"mark":{"type":"point","shape":"M -1 -0.5 H 0 V 0.5 H -0.5 V -0.15 H -1 Z M 0.1 -0.5 H 0.4 V -0.2 H 0.1 Z M 0.5 -0.5 H 1 L 0.55 0.5 H 0.05 Z","size":576,"filled":true,"color":"#131722","opacity":1}},
{"data":{"values":[{"n":332.6,"p":1.03473}]},"mark":{"type":"point","shape":"circle","size":90,"filled":false,"stroke":"#555a65","strokeWidth":1,"opacity":1}},
{"data":{"values":[{"n":332.6,"p":1.03473}]},"mark":{"type":"point","shape":"circle","size":12,"filled":false,"stroke":"#555a65","strokeWidth":1,"opacity":1}}
]}
